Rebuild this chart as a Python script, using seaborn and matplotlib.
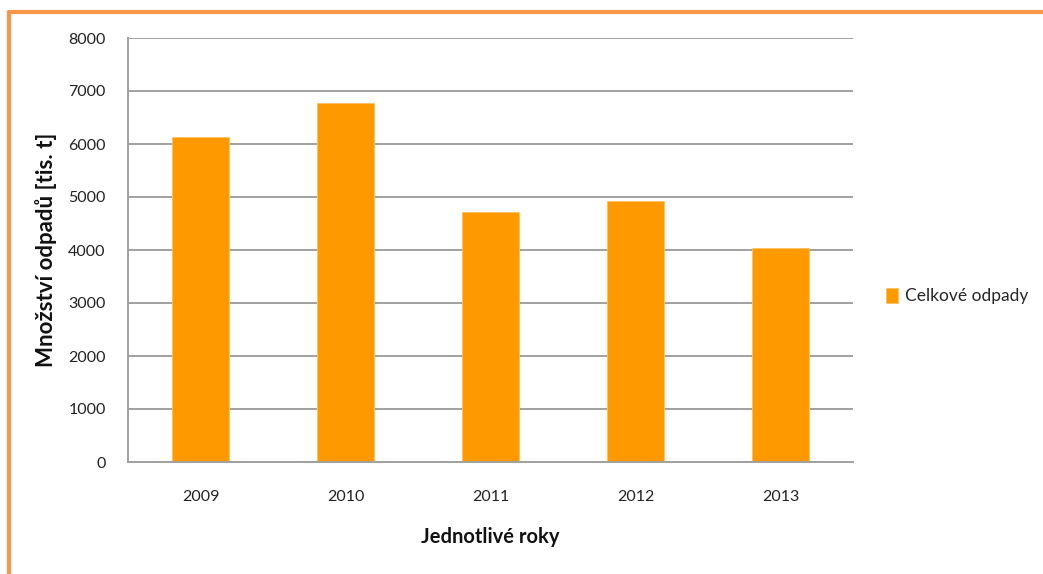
import matplotlib
matplotlib.use("Agg")
import matplotlib.pyplot as plt
import seaborn as sns
import pandas as pd
from matplotlib.lines import Line2D

years = ["2009", "2010", "2011", "2012", "2013"]
values = [6125, 6770, 4710, 4920, 4030]
series_name = "Celkové odpady"
yticks = [0, 1000, 2000, 3000, 4000, 5000, 6000, 7000, 8000]

sns.set_theme(style="white")
plt.rcParams["font.family"] = ["Lato", "DejaVu Sans"]

df = pd.DataFrame({"rok": years, "mnozstvi": values})

W, H = 1043, 574
fig = plt.figure(figsize=(W / 100, H / 100), dpi=100)
ax = fig.add_axes([128 / W, 1 - 462 / H, (853 - 128) / W, (462 - 38) / H])

sns.barplot(data=df, x="rok", y="mnozstvi", color="#ff9900", width=0.39,
            saturation=1, label=series_name, ax=ax, edgecolor="#ffc060", linewidth=0.6)

ax.set_ylim(0, 8000)
ax.set_yticks(yticks)
ax.set_yticklabels([str(t) for t in yticks], fontsize=11.5, color="#222222")
ax.tick_params(axis="x", labelsize=11.5, colors="#222222", pad=20, length=0)
ax.tick_params(axis="y", pad=16, length=0)
ax.yaxis.grid(True, color="#a0a0a0", linewidth=1.4)
ax.set_axisbelow(True)
for s in ["top", "right"]:
    ax.spines[s].set_visible(False)
ax.spines["left"].set_color("#a0a0a0")
ax.spines["left"].set_linewidth(1.4)
ax.spines["bottom"].set_color("#a0a0a0")
ax.spines["bottom"].set_linewidth(1.4)

ax.set_xlabel("Jednotlivé roky", fontsize=14.5, fontweight="bold", color="#111111", labelpad=17)
ax.set_ylabel("Množství odpadů [tis. t]", fontsize=16, fontweight="bold", color="#111111", labelpad=8)

leg = ax.legend(loc="center left", bbox_to_anchor=(870 / W, 1 - 296 / H),
                bbox_transform=fig.transFigure, frameon=False, fontsize=12.5,
                handlelength=0.7, handleheight=1.0, handletextpad=0.4)

# orange frame (top and left)
fig.add_artist(Line2D([9 / W, 1.0], [1 - 12 / H, 1 - 12 / H], transform=fig.transFigure,
                      color="#f79646", linewidth=3))
fig.add_artist(Line2D([9 / W, 9 / W], [0, 1 - 12 / H], transform=fig.transFigure,
                      color="#f79646", linewidth=3))

fig.savefig("out.png", dpi=100)
